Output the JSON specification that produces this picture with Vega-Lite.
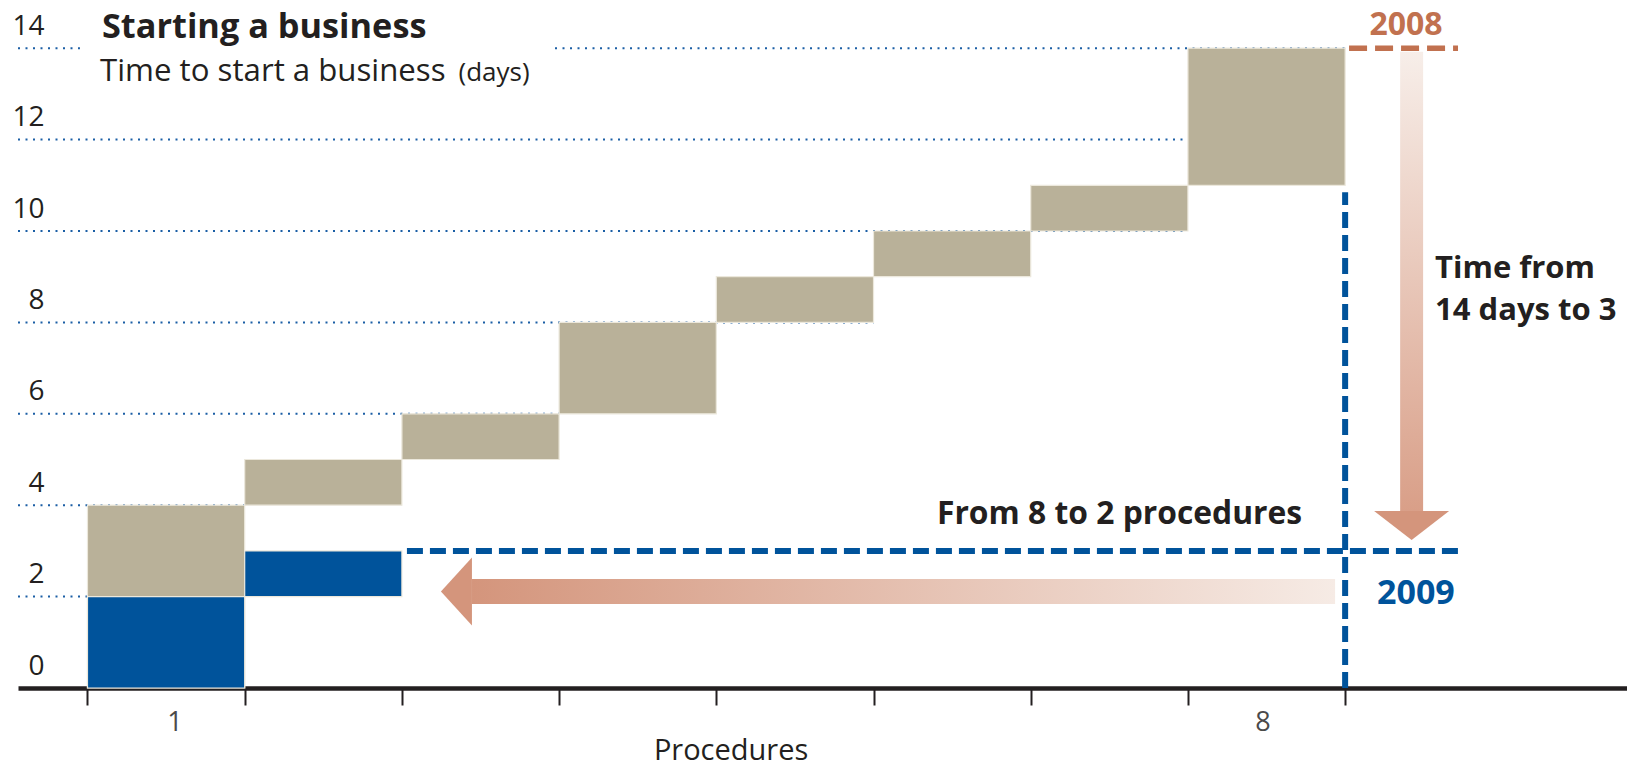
{
  "$schema": "https://vega.github.io/schema/vega-lite/v6.json",
  "width": 1609,
  "height": 688,
  "autosize": {"type": "none"},
  "padding": {"left": 18, "top": 0, "right": 0, "bottom": 79},
  "background": "white",
  "config": {"view": {"stroke": null}, "font": "Open Sans"},
  "datasets": {
    "bars": [
      {"year": "2008", "procedure": 1, "x": 0, "x2": 1, "y": 0, "y2": 4},
      {"year": "2008", "procedure": 2, "x": 1, "x2": 2, "y": 4, "y2": 5},
      {"year": "2008", "procedure": 3, "x": 2, "x2": 3, "y": 5, "y2": 6},
      {"year": "2008", "procedure": 4, "x": 3, "x2": 4, "y": 6, "y2": 8},
      {"year": "2008", "procedure": 5, "x": 4, "x2": 5, "y": 8, "y2": 9},
      {"year": "2008", "procedure": 6, "x": 5, "x2": 6, "y": 9, "y2": 10},
      {"year": "2008", "procedure": 7, "x": 6, "x2": 7, "y": 10, "y2": 11},
      {"year": "2008", "procedure": 8, "x": 7, "x2": 8, "y": 11, "y2": 14},
      {"year": "2009", "procedure": 1, "x": 0, "x2": 1, "y": 0, "y2": 2},
      {"year": "2009", "procedure": 2, "x": 1, "x2": 2, "y": 2, "y2": 3}
    ],
    "gridlines": [
      {"y": 2, "x": -0.442, "x2": 0},
      {"y": 4, "x": -0.442, "x2": 1},
      {"y": 6, "x": -0.442, "x2": 3},
      {"y": 8, "x": -0.442, "x2": 5},
      {"y": 10, "x": -0.442, "x2": 7},
      {"y": 12, "x": -0.442, "x2": 7},
      {"y": 14, "x": -0.442, "x2": -0.048},
      {"y": 14, "x": 2.974, "x2": 8}
    ],
    "level2008": [{"x": 8.025, "x2": 8.718, "y": 14, "y2": 14}],
    "level2009": [
      {"x": 2.032, "x2": 8.737, "y": 3, "y2": 3},
      {"x": 8, "x2": 8, "y": 0, "y2": 10.85}
    ],
    "vshaft": [{"x": 8.35, "x2": 8.496, "y": 13.92, "y2": 3.87}],
    "hshaft": [{"x": 2.446, "x2": 7.936, "y": 2.385, "y2": 1.838}],
    "vhead": [{"x": 8.423, "y": 3.556}],
    "hhead": [{"x": 2.347, "y": 2.112}],
    "title": [{"x": 0.092, "y": 14.23, "label": "Starting a business"}],
    "subtitle": [{"x": 0.08, "y": 13.28, "label": "Time to start a business"}],
    "unit": [{"x": 2.36, "y": 13.28, "label": "(days)"}],
    "notes": [
      {"x": 8.572, "y": 8.97, "label": "Time from"},
      {"x": 8.572, "y": 8.06, "label": "14 days to 3"}
    ],
    "notes2": [{"x": 6.565, "y": 3.59, "label": "From 8 to 2 procedures"}],
    "y2008": [{"x": 8.387, "y": 14.3, "label": "2008"}],
    "y2009": [{"x": 8.45, "y": 1.84, "label": "2009"}],
    "xlabels": [
      {"x": 0.557, "y": -0.95, "label": "1"},
      {"x": 7.478, "y": -0.95, "label": "8"}
    ],
    "xtitle": [{"x": 4.094, "y": -1.58, "label": "Procedures"}]
  },
  "encoding": {
    "x": {
      "field": "x",
      "type": "quantitative",
      "scale": {"domain": [-0.442, 9.793], "nice": false, "zero": false},
      "axis": {
        "values": [0, 1, 2, 3, 4, 5, 6, 7, 8],
        "labels": false,
        "title": null,
        "grid": false,
        "ticks": true,
        "tickSize": 17,
        "tickWidth": 2,
        "tickColor": "#231f20",
        "domainColor": "#231f20",
        "domainWidth": 4.5
      }
    },
    "y": {
      "field": "y",
      "type": "quantitative",
      "scale": {"domain": [0, 15.055], "nice": false, "zero": false},
      "axis": {
        "values": [0, 2, 4, 6, 8, 10, 12, 14],
        "title": null,
        "grid": false,
        "domain": false,
        "ticks": false,
        "tickSize": 0,
        "labelPadding": -26,
        "labelAlign": "right",
        "labelBaseline": "middle",
        "labelOffset": -22,
        "labelFontSize": 28,
        "labelColor": "#231f20",
        "labelFont": "Open Sans"
      }
    }
  },
  "layer": [
    {
      "data": {"name": "gridlines"},
      "mark": {"type": "rule", "color": "#1b5ea5", "strokeWidth": 2, "strokeDash": [2, 5.5]},
      "encoding": {"x2": {"field": "x2"}}
    },
    {
      "data": {"name": "bars"},
      "mark": {"type": "rect", "stroke": "#ece8dc", "strokeWidth": 1.2},
      "encoding": {
        "x2": {"field": "x2"},
        "y2": {"field": "y2"},
        "color": {
          "field": "year",
          "type": "nominal",
          "scale": {"domain": ["2008", "2009"], "range": ["#b9b199", "#00539b"]},
          "legend": null
        }
      }
    },
    {
      "data": {"name": "level2008"},
      "mark": {"type": "rule", "color": "#c1714f", "strokeWidth": 5.5, "strokeDash": [18, 8]},
      "encoding": {"x2": {"field": "x2"}, "y2": {"field": "y2"}}
    },
    {
      "data": {"name": "vshaft"},
      "mark": {
        "type": "rect",
        "fill": {
          "gradient": "linear", "x1": 0, "y1": 0, "x2": 0, "y2": 1,
          "stops": [{"offset": 0, "color": "#f7eee9"}, {"offset": 1, "color": "#d99f88"}]
        }
      },
      "encoding": {"x2": {"field": "x2"}, "y2": {"field": "y2"}}
    },
    {
      "data": {"name": "hshaft"},
      "mark": {
        "type": "rect",
        "fill": {
          "gradient": "linear", "x1": 0, "y1": 0, "x2": 1, "y2": 0,
          "stops": [{"offset": 0, "color": "#d4957c"}, {"offset": 1, "color": "#f6ebe5"}]
        }
      },
      "encoding": {"x2": {"field": "x2"}, "y2": {"field": "y2"}}
    },
    {
      "data": {"name": "vhead"},
      "mark": {"type": "point", "filled": true, "opacity": 1, "color": "#d4957c", "strokeWidth": 0, "size": 5625, "shape": "M-1,-0.387L1,-0.387L0,0.387Z"}
    },
    {
      "data": {"name": "hhead"},
      "mark": {"type": "point", "filled": true, "opacity": 1, "color": "#d4957c", "strokeWidth": 0, "size": 4624, "shape": "M0.456,-1L0.456,1L-0.456,0Z"}
    },
    {
      "data": {"name": "level2009"},
      "mark": {"type": "rule", "color": "#00539b", "strokeWidth": 6, "strokeDash": [16, 7]},
      "encoding": {"x2": {"field": "x2"}, "y2": {"field": "y2"}}
    },
    {
      "data": {"name": "title"},
      "mark": {"type": "text", "align": "left", "baseline": "alphabetic", "fontSize": 34.3, "fontWeight": "bold", "color": "#231f20"},
      "encoding": {"text": {"field": "label"}}
    },
    {
      "data": {"name": "subtitle"},
      "mark": {"type": "text", "align": "left", "baseline": "alphabetic", "fontSize": 31.2, "color": "#231f20"},
      "encoding": {"text": {"field": "label"}}
    },
    {
      "data": {"name": "unit"},
      "mark": {"type": "text", "align": "left", "baseline": "alphabetic", "fontSize": 26, "color": "#231f20"},
      "encoding": {"text": {"field": "label"}}
    },
    {
      "data": {"name": "notes"},
      "mark": {"type": "text", "align": "left", "baseline": "alphabetic", "fontSize": 31, "fontWeight": "bold", "color": "#231f20"},
      "encoding": {"text": {"field": "label"}}
    },
    {
      "data": {"name": "notes2"},
      "mark": {"type": "text", "align": "center", "baseline": "alphabetic", "fontSize": 31.8, "fontWeight": "bold", "color": "#231f20"},
      "encoding": {"text": {"field": "label"}}
    },
    {
      "data": {"name": "y2008"},
      "mark": {"type": "text", "align": "center", "baseline": "alphabetic", "fontSize": 32, "fontWeight": "bold", "color": "#c1714f"},
      "encoding": {"text": {"field": "label"}}
    },
    {
      "data": {"name": "y2009"},
      "mark": {"type": "text", "align": "center", "baseline": "alphabetic", "fontSize": 34, "fontWeight": "bold", "color": "#00539b"},
      "encoding": {"text": {"field": "label"}}
    },
    {
      "data": {"name": "xlabels"},
      "mark": {"type": "text", "align": "center", "baseline": "alphabetic", "fontSize": 27, "color": "#4a4a4a"},
      "encoding": {"text": {"field": "label"}}
    },
    {
      "data": {"name": "xtitle"},
      "mark": {"type": "text", "align": "center", "baseline": "alphabetic", "fontSize": 29, "color": "#231f20"},
      "encoding": {"text": {"field": "label"}}
    }
  ]
}
